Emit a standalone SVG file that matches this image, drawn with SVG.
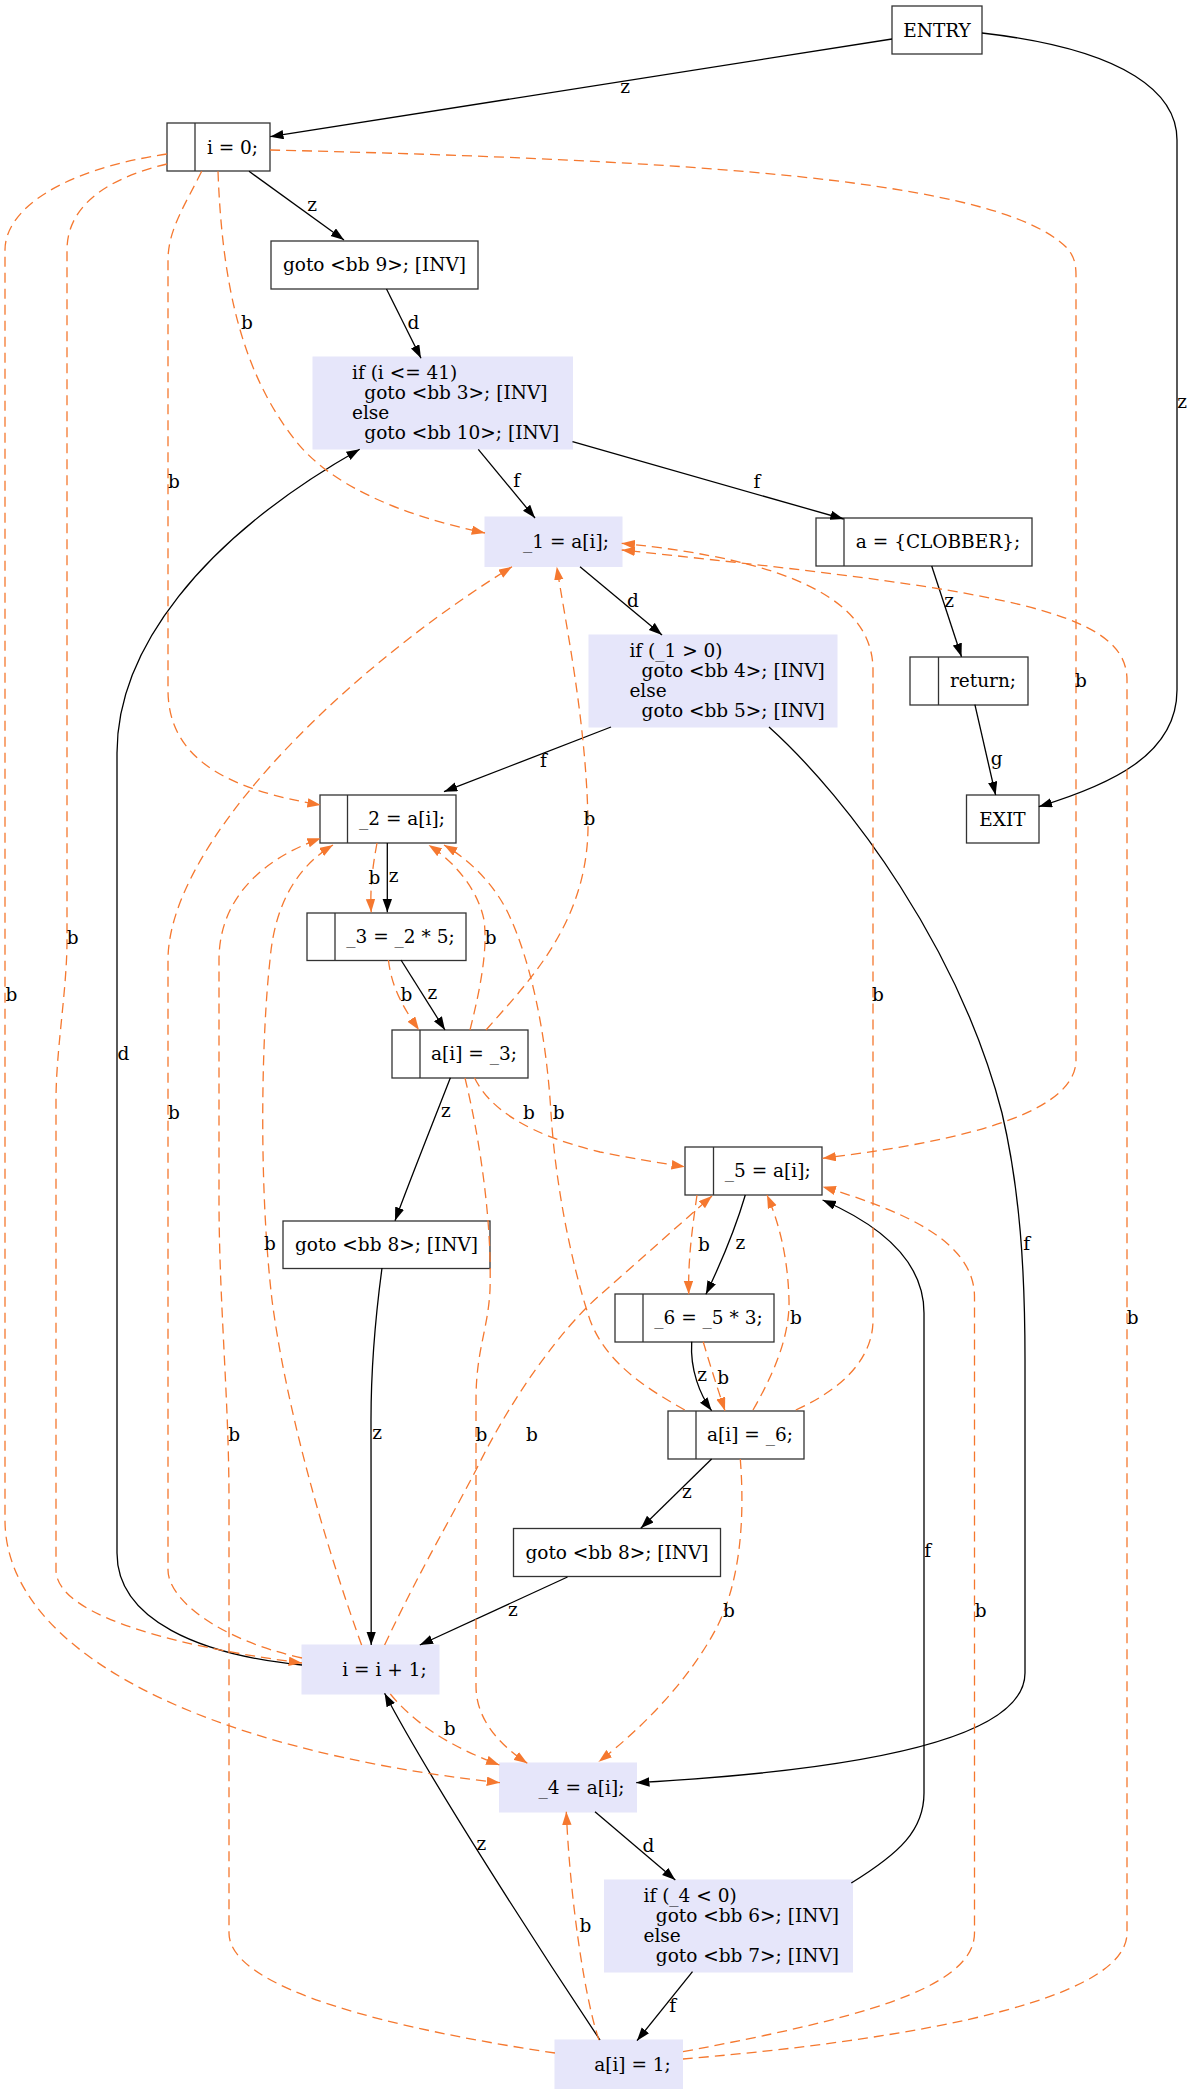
<svg xmlns="http://www.w3.org/2000/svg" width="1193" height="2095" viewBox="0 0 1193 2095">
<style>
text{font-family:'DejaVu Serif',serif;font-size:18.5px;fill:#000}
.m{text-anchor:middle}
.bx{fill:#fff;stroke:#333;stroke-width:1.3}
.dv{stroke:#333;stroke-width:1.3}
.lv{fill:#e6e6fa;stroke:#e6e6fa;stroke-width:1}
.e{fill:none;stroke:#000;stroke-width:1.3}
.b{fill:none;stroke:#f5782f;stroke-width:1.3;stroke-dasharray:10,6}
</style>
<defs>
<marker id="ak" markerUnits="userSpaceOnUse" markerWidth="14" markerHeight="10" refX="13.3" refY="4.7" orient="auto"><path d="M0,0 L13.3,4.7 L0,9.4 z" fill="#000"/></marker>
<marker id="ao" markerUnits="userSpaceOnUse" markerWidth="14" markerHeight="10" refX="13.3" refY="4.7" orient="auto"><path d="M0,0 L13.3,4.7 L0,9.4 z" fill="#f5782f"/></marker>
</defs>
<rect width="1193" height="2095" fill="#fff"/>
<g id="nodes">
<g id="entry"><rect class="bx" x="892" y="6" width="90" height="48"/><text class="m" x="937" y="36.5">ENTRY</text></g>
<g id="exit"><rect class="bx" x="966.5" y="795" width="72.5" height="48"/><text class="m" x="1002.5" y="825.5">EXIT</text></g>
<g id="n_i0"><rect class="bx" x="167" y="123" width="103" height="48"/><line class="dv" x1="195" y1="123" x2="195" y2="171"/><text class="m" x="232.5" y="153.5">i = 0;</text></g>
<g id="n_goto9"><rect class="bx" x="271" y="241" width="207" height="48"/><text class="m" x="374.5" y="271">goto &lt;bb 9&gt;; [INV]</text></g>
<g id="n_if41"><rect class="lv" x="313" y="357" width="259.5" height="92"/><text x="352" y="378.5">if (i &lt;= 41)</text><text x="364.3" y="398.5">goto &lt;bb 3&gt;; [INV]</text><text x="352" y="418.5">else</text><text x="364.3" y="438.5">goto &lt;bb 10&gt;; [INV]</text></g>
<g id="n_1"><rect class="lv" x="485" y="517" width="137" height="49.5"/><text class="m" x="566" y="548">_1 = a[i];</text></g>
<g id="n_clob"><rect class="bx" x="816" y="518" width="216" height="48"/><line class="dv" x1="844" y1="518" x2="844" y2="566"/><text class="m" x="938" y="548">a = {CLOBBER};</text></g>
<g id="n_if1"><rect class="lv" x="589" y="635" width="248" height="92"/><text x="629.4" y="656.5">if (_1 &gt; 0)</text><text x="641.6" y="676.5">goto &lt;bb 4&gt;; [INV]</text><text x="629.4" y="696.5">else</text><text x="641.6" y="716.5">goto &lt;bb 5&gt;; [INV]</text></g>
<g id="n_ret"><rect class="bx" x="910" y="657" width="118" height="48"/><line class="dv" x1="938.5" y1="657" x2="938.5" y2="705"/><text class="m" x="983" y="687">return;</text></g>
<g id="n_2"><rect class="bx" x="320" y="795" width="136" height="48"/><line class="dv" x1="347.5" y1="795" x2="347.5" y2="843"/><text class="m" x="402" y="825">_2 = a[i];</text></g>
<g id="n_3"><rect class="bx" x="307" y="913" width="159" height="47.5"/><line class="dv" x1="335" y1="913" x2="335" y2="960.5"/><text class="m" x="400.5" y="943">_3 = _2 * 5;</text></g>
<g id="n_a3"><rect class="bx" x="392" y="1030" width="136" height="48"/><line class="dv" x1="420" y1="1030" x2="420" y2="1078"/><text class="m" x="474" y="1060">a[i] = _3;</text></g>
<g id="n_goto8a"><rect class="bx" x="283" y="1221" width="207" height="47.5"/><text class="m" x="386.5" y="1251">goto &lt;bb 8&gt;; [INV]</text></g>
<g id="n_5"><rect class="bx" x="685" y="1147" width="137" height="48"/><line class="dv" x1="713.5" y1="1147" x2="713.5" y2="1195"/><text class="m" x="767.7" y="1177">_5 = a[i];</text></g>
<g id="n_6"><rect class="bx" x="615" y="1294" width="159" height="48"/><line class="dv" x1="643" y1="1294" x2="643" y2="1342"/><text class="m" x="708.5" y="1324">_6 = _5 * 3;</text></g>
<g id="n_a6"><rect class="bx" x="668" y="1411" width="136" height="48"/><line class="dv" x1="696" y1="1411" x2="696" y2="1459"/><text class="m" x="750" y="1441">a[i] = _6;</text></g>
<g id="n_goto8b"><rect class="bx" x="513.5" y="1528.5" width="207" height="48"/><text class="m" x="617" y="1558.5">goto &lt;bb 8&gt;; [INV]</text></g>
<g id="n_inc"><rect class="lv" x="302" y="1645" width="137" height="49"/><text class="m" x="384.5" y="1675.5">i = i + 1;</text></g>
<g id="n_4"><rect class="lv" x="499.5" y="1763" width="137" height="49"/><text class="m" x="581.5" y="1793.5">_4 = a[i];</text></g>
<g id="n_if4"><rect class="lv" x="604.5" y="1880" width="248" height="92"/><text x="643.5" y="1901.5">if (_4 &lt; 0)</text><text x="655.8" y="1921.5">goto &lt;bb 6&gt;; [INV]</text><text x="643.5" y="1941.5">else</text><text x="655.8" y="1961.5">goto &lt;bb 7&gt;; [INV]</text></g>
<g id="n_a1"><rect class="lv" x="555" y="2040" width="127.5" height="48.5"/><text class="m" x="632.5" y="2070.5">a[i] = 1;</text></g>
</g>
<g id="connectors">
<path class="e" marker-end="url(#ak)" d="M892,39 L270.2,136.7"/><text class="m" x="625" y="93">z</text>
<path class="e" marker-end="url(#ak)" d="M982,33 C1130,50 1177,95 1177,140 L1177,690 C1177,755 1110,785 1038.8,806.7"/><text class="m" x="1182" y="408">z</text>
<path class="e" marker-end="url(#ak)" d="M249,171.3 L344,240"/><text class="m" x="312" y="210.5">z</text>
<path class="e" marker-end="url(#ak)" d="M386.5,289 L421,358.3"/><text class="m" x="413.3" y="329.3">d</text>
<path class="e" marker-end="url(#ak)" d="M478.3,449.3 L535,518"/><text class="m" x="516.6" y="487">f</text>
<path class="e" marker-end="url(#ak)" d="M572.5,441.7 L843.6,519"/><text class="m" x="757" y="488">f</text>
<path class="e" marker-end="url(#ak)" d="M580,566.7 L662,635"/><text class="m" x="633" y="607">d</text>
<path class="e" marker-end="url(#ak)" d="M931.7,566 L961.5,656.7"/><text class="m" x="949" y="606.5">z</text>
<path class="e" marker-end="url(#ak)" d="M974.9,704.7 L995.6,795"/><text class="m" x="996.7" y="764.5">g</text>
<path class="e" marker-end="url(#ak)" d="M611,727 L444,791.7"/><text class="m" x="543.4" y="767">f</text>
<path class="e" marker-end="url(#ak)" d="M769,727 C850,800 960,950 1002,1113 C1020,1190 1025,1270 1025,1360 L1025,1673 C1025,1745 830,1772 636.2,1782.7"/><text class="m" x="1026.6" y="1250">f</text>
<path class="e" marker-end="url(#ak)" d="M387.3,843 L387.3,912.3"/><text class="m" x="393.5" y="881.7">z</text>
<path class="e" marker-end="url(#ak)" d="M401,960 L445,1030"/><text class="m" x="432.4" y="999">z</text>
<path class="e" marker-end="url(#ak)" d="M450.4,1077.7 C430,1130 410,1180 395,1220.7"/><text class="m" x="445.8" y="1117">z</text>
<path class="e" marker-end="url(#ak)" d="M382,1268 C375,1320 371,1370 371,1420 L371.2,1645"/><text class="m" x="377" y="1438.7">z</text>
<path class="e" marker-end="url(#ak)" d="M302,1665 C200,1655 117,1620 117,1553 L117,753 C117,650 200,540 359.7,449.3"/><text class="m" x="123.4" y="1060">d</text>
<path class="e" marker-end="url(#ak)" d="M567.5,1577 L419.8,1645"/><text class="m" x="512.8" y="1615.7">z</text>
<path class="e" marker-end="url(#ak)" d="M595,1811.7 L675.3,1880"/><text class="m" x="648.5" y="1852">d</text>
<path class="e" marker-end="url(#ak)" d="M692.5,1971.7 L637,2040.7"/><text class="m" x="672.6" y="2012">f</text>
<path class="e" marker-end="url(#ak)" d="M600,2040 C540,1950 430,1780 384.6,1693.3"/><text class="m" x="481.4" y="1849.7">z</text>
<path class="e" marker-end="url(#ak)" d="M851.3,1883 C900,1853 924,1830 924,1793 L924,1313 C924,1260 880,1225 822.6,1200"/><text class="m" x="927.8" y="1557">f</text>
<path class="e" marker-end="url(#ak)" d="M745.3,1195 C735,1230 720,1265 705.9,1294.3"/><text class="m" x="740.3" y="1249">z</text>
<path class="e" marker-end="url(#ak)" d="M691.7,1341.7 C690,1370 700,1395 711.6,1410.7"/><text class="m" x="702" y="1381.4">z</text>
<path class="e" marker-end="url(#ak)" d="M711.6,1459 L640.8,1528.3"/><text class="m" x="686.8" y="1498">z</text>

<path class="b" marker-end="url(#ao)" d="M218,171.3 C222,280 240,370 295,440 C330,485 400,515 485,533"/><text class="m" x="246.8" y="329.3">b</text>
<path class="b" marker-end="url(#ao)" d="M201.7,171.3 C185,205 168,230 168,260 L168,690 C168,760 230,790 320.7,805"/><text class="m" x="174" y="488">b</text>
<path class="b" marker-end="url(#ao)" d="M167,164 C100,180 67,210 67,250 L67,940 C67,990 56,1050 56,1100 L56,1570 C56,1620 200,1650 302,1663"/><text class="m" x="72.7" y="943.7">b</text>
<path class="b" marker-end="url(#ao)" d="M167,154 C60,170 5,210 5,250 L5,1520 C5,1650 200,1750 500,1782.7"/><text class="m" x="11.5" y="1001">b</text>
<path class="b" marker-end="url(#ao)" d="M270,150 C700,160 1000,180 1067,248 C1073,255 1076,262 1076,275 L1076,1060 C1076,1120 930,1145 822.6,1158.3"/><text class="m" x="1081" y="687">b</text>
<path class="b" marker-end="url(#ao)" d="M795.8,1410 C840,1390 873,1360 873,1320 L873,670 C873,600 790,560 621.7,543.3"/><text class="m" x="878" y="1001.3">b</text>
<path class="b" marker-end="url(#ao)" d="M683,2059 C850,2045 1127,2010 1127,1933 L1127,680 C1127,610 1000,590 621.7,550"/><text class="m" x="1132.6" y="1323.7">b</text>
<path class="b" marker-end="url(#ao)" d="M302,1658 C220,1640 168,1600 168,1570 L168,960 C168,850 330,680 512,566.7"/><text class="m" x="174" y="1118.7">b</text>
<path class="b" marker-end="url(#ao)" d="M470,1030 C480,990 488,950 484,920 C478,890 455,862 428.6,845"/><text class="m" x="490.6" y="943.7">b</text>
<path class="b" marker-end="url(#ao)" d="M684.8,1410 C640,1385 605,1360 590,1320 C570,1260 555,1180 551,1113 C546,1030 530,960 509,915 C495,885 470,860 444,845"/><text class="m" x="558.7" y="1119.3">b</text>
<path class="b" marker-end="url(#ao)" d="M486,1030 C530,980 590,920 588,820 C586,720 565,620 556.8,566.7"/><text class="m" x="589.3" y="825.3">b</text>
<path class="b" marker-end="url(#ao)" d="M361.6,1645 C320,1530 285,1400 272,1300 C258,1180 262,1030 270,960 C275,900 300,865 333,845"/><text class="m" x="269.8" y="1250.3">b</text>
<path class="b" marker-end="url(#ao)" d="M555,2053 C400,2030 229,1990 229,1933 L229,1500 C229,1400 219,1300 219,1200 L219,960 C219,900 260,860 320.7,838.3"/><text class="m" x="234.2" y="1441.3">b</text>
<path class="b" marker-end="url(#ao)" d="M377,843 C372,870 370,890 371.2,912.3"/><text class="m" x="374.5" y="884">b</text>
<path class="b" marker-end="url(#ao)" d="M388.4,960 C392,990 405,1010 419,1030"/><text class="m" x="406.4" y="1001">b</text>
<path class="b" marker-end="url(#ao)" d="M474.5,1077.7 C490,1110 530,1135 600,1152 C630,1158 660,1163 684.8,1166.7"/><text class="m" x="528.9" y="1119.3">b</text>
<path class="b" marker-end="url(#ao)" d="M465,1078 C480,1140 492,1220 490,1290 C488,1330 476,1350 476,1400 L476,1686 C476,1720 500,1745 527.3,1763.3"/><text class="m" x="481.4" y="1441.3">b</text>
<path class="b" marker-end="url(#ao)" d="M384.6,1645 C420,1570 450,1520 476,1470 C510,1400 560,1330 600,1295 C640,1260 690,1215 712,1196"/><text class="m" x="531.9" y="1441.3">b</text>
<path class="b" marker-end="url(#ao)" d="M697,1195 C692,1230 688,1260 688.7,1294.3"/><text class="m" x="704" y="1251.3">b</text>
<path class="b" marker-end="url(#ao)" d="M753,1410 C770,1380 790,1340 789,1300 C788,1260 780,1225 767,1195"/><text class="m" x="795.8" y="1323.7">b</text>
<path class="b" marker-end="url(#ao)" d="M703.2,1341.7 C710,1365 718,1390 725,1410.7"/><text class="m" x="723.1" y="1383.7">b</text>
<path class="b" marker-end="url(#ao)" d="M740.3,1459 C745,1520 740,1580 718,1625 C690,1680 640,1730 598.7,1761.7"/><text class="m" x="728.8" y="1617">b</text>
<path class="b" marker-end="url(#ao)" d="M390.3,1694 C420,1730 460,1750 499.4,1765"/><text class="m" x="449.6" y="1735.3">b</text>
<path class="b" marker-end="url(#ao)" d="M599,2040 C585,2000 570,1900 566.3,1811.7"/><text class="m" x="585.5" y="1932">b</text>
<path class="b" marker-end="url(#ao)" d="M683,2051.7 C850,2020 974.5,1990 974.5,1933 L974.5,1297 C974.5,1240 900,1210 822.6,1186.7"/><text class="m" x="980.6" y="1617">b</text>
</g>
</svg>
